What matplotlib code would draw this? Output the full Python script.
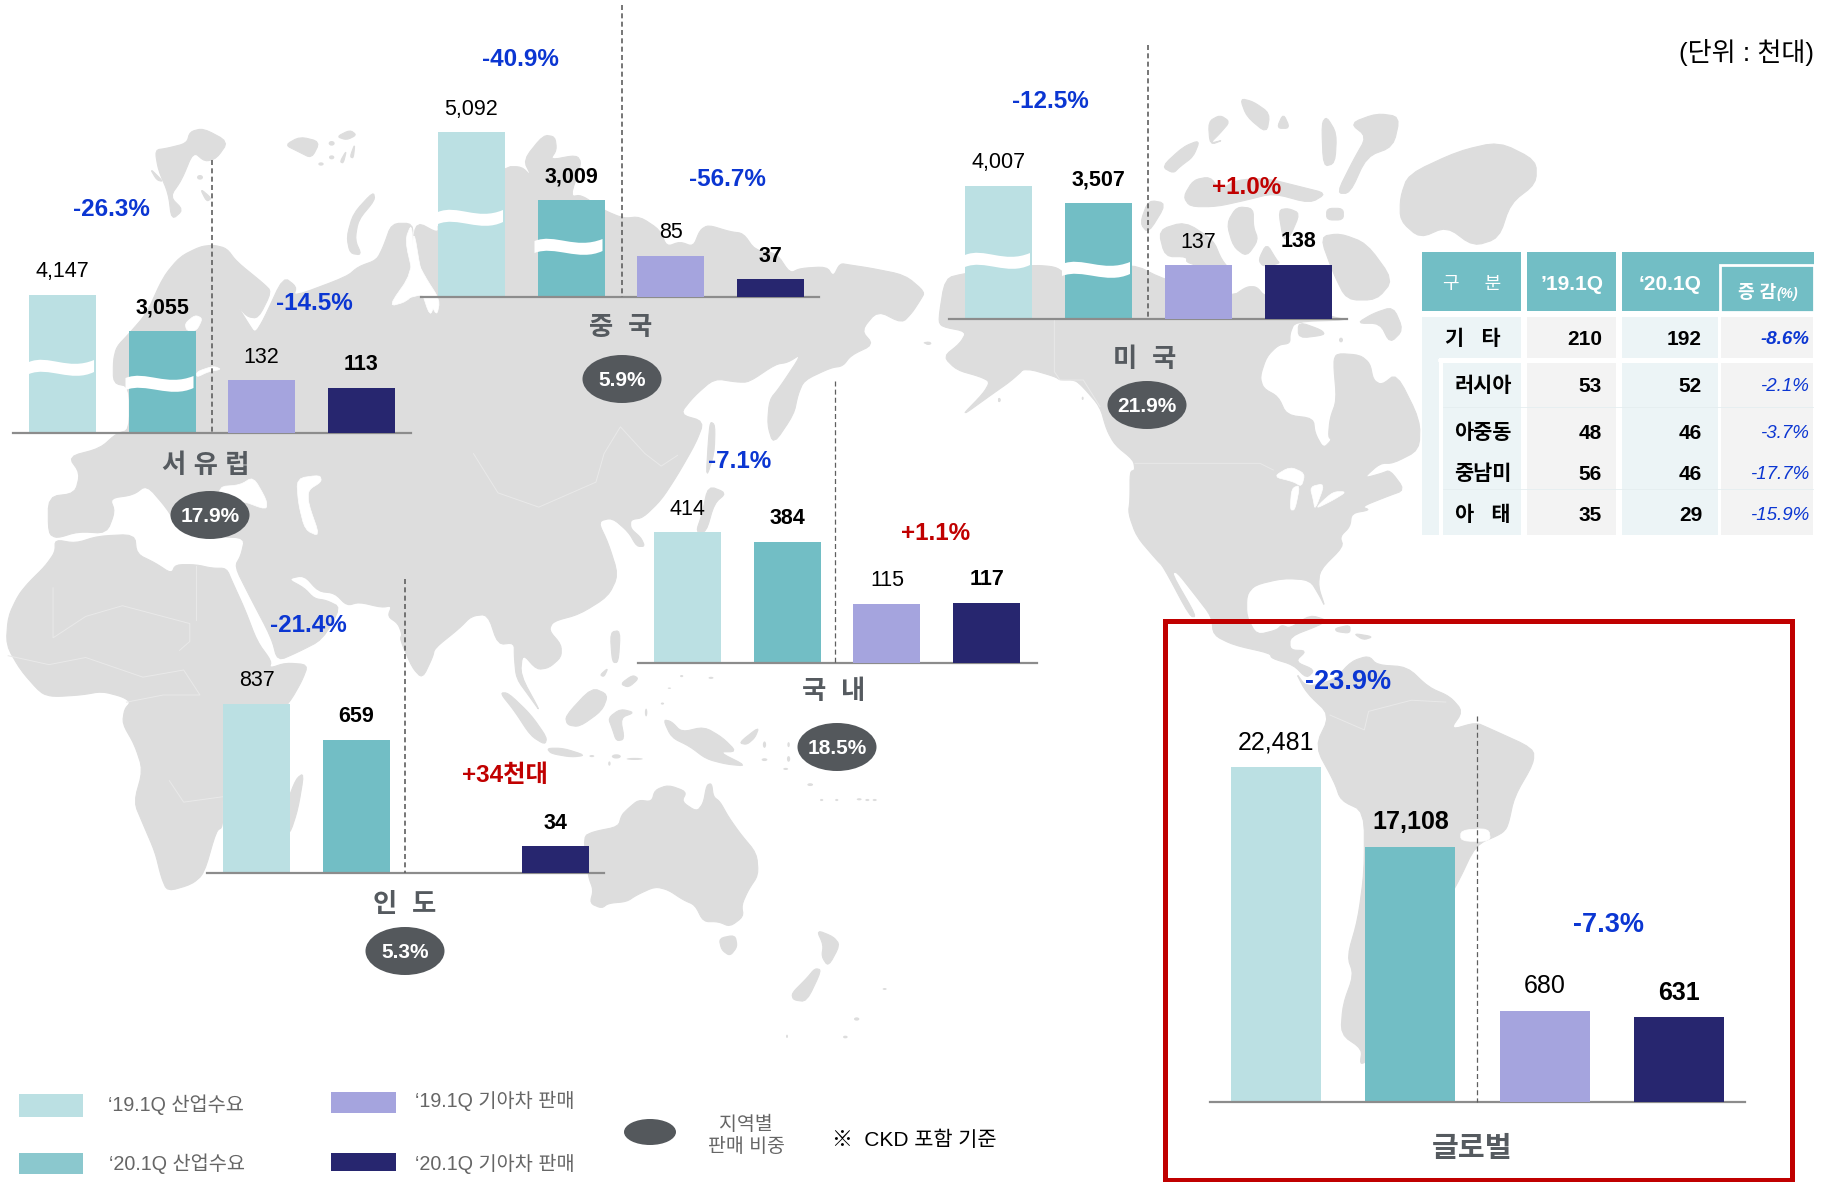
import matplotlib
matplotlib.use("Agg")
import matplotlib.pyplot as plt
from matplotlib.patches import Ellipse, PathPatch, Polygon, Rectangle
from matplotlib.path import Path

plt.rcParams['font.family'] = ['Liberation Sans', 'Noto Sans CJK KR']

W, H = 1822, 1182

# values
regions = ['서 유 럽', '중  국', '미  국', '국  내', '인  도', '글로벌']
demand_19 = [4147, 5092, 4007, 414, 837, 22481]
demand_20 = [3055, 3009, 3507, 384, 659, 17108]
sales_19 = [132, 85, 137, 115, None, 680]
sales_20 = [113, 37, 138, 117, 34, 631]
demand_chg = ['-26.3%', '-40.9%', '-12.5%', '-7.1%', '-21.4%', '-23.9%']
sales_chg = ['-14.5%', '-56.7%', '+1.0%', '+1.1%', '+34천대', '-7.3%']
shares = ['17.9%', '5.9%', '21.9%', '18.5%', '5.3%', None]

table_labels = ['기   타', '러시아', '아중동', '중남미', '아   태']
table_19 = [210, 53, 48, 56, 35]
table_20 = [192, 52, 46, 46, 29]
table_chg = ['-8.6%', '-2.1%', '-3.7%', '-17.7%', '-15.9%']

legend_labels = ['‘19.1Q 산업수요', '‘20.1Q 산업수요', '‘19.1Q 기아차 판매', '‘20.1Q 기아차 판매']

LIGHT, TEAL, LAV, NAVY = '#BBE0E3', '#72BEC5', '#A5A4DE', '#27266F'
BLUE, RED, GREY, LAND = '#0B36D2', '#C00000', '#54585C', '#DDDDDD'

# layout: axis x0, x1, baseline, first bar centre, bar pitch, bar width, px per unit left/right
# label positions: name, share ellipse, left pct, right pct, dashed x, dashed top, wave centres
layout = [
    dict(x0=13, x1=411, base=433, c0=62.5, pitch=99.5, w=67, kl=.0333, kr=.4015, name=(206, 466), oval=(210, 515),
         pl=(111, 209), pr=(314, 304), dash=(212, 160), waves=(368, 384), fs=15.5, pfs=17.5),
    dict(x0=421, x1=819, base=297, c0=471.5, pitch=99.5, w=67, kl=.0324, kr=.483, name=(621, 328), oval=(622, 379),
         pl=(520, 59), pr=(727, 179), dash=(622, 5), waves=(218, 247), fs=15.5, pfs=17.5),
    dict(x0=949, x1=1347, base=319, c0=998.5, pitch=100, w=67, kl=.0332, kr=.394, name=(1145, 360), oval=(1147, 405),
         pl=(1050, 102), pr=(1247, 187), dash=(1148, 45), waves=(261, 270), fs=15.5, pfs=17.5),
    dict(x0=638, x1=1037, base=662.5, c0=687.5, pitch=99.7, w=67, kl=.3145, kr=.51, name=(834, 692), oval=(837, 747),
         pl=(740, 462), pr=(936, 534), dash=(835, 381), waves=None, fs=15.5, pfs=17.5),
    dict(x0=207, x1=604, base=873, c0=256.5, pitch=99.7, w=67, kl=.202, kr=.79, name=(405, 905), oval=(405, 951),
         pl=(308, 625), pr=(505, 775), dash=(405, 579), waves=None, fs=15.5, pfs=17.5),
    dict(x0=1210, x1=1745, base=1101.5, c0=1276, pitch=134.3, w=90, kl=.0149, kr=.1337, name=(1472, 1149), oval=None,
         pl=(1348, 682), pr=(1609, 925), dash=(1477, 716), waves=None, fs=18, pfs=19.5),
]


def px(frame, pts):
    ox, oy, sx, sy = frame
    return [(ox + x / sx, oy + y / sy) for x, y in pts]


def soften(pts, rounds=2):
    """Corner cutting, so the traced coasts don't look like they were cut with scissors"""
    for _ in range(rounds):
        out = []
        for i, (x0, y0) in enumerate(pts):
            x1, y1 = pts[(i + 1) % len(pts)]
            out.append((.8 * x0 + .2 * x1, .8 * y0 + .2 * y1))
            out.append((.2 * x0 + .8 * x1, .2 * y0 + .8 * y1))
        pts = out
    return pts


Z3 = (0, 120, 3, 3)
Z4 = (400, 0, 3, 3)
Z5 = (900, 60, 3, 3)
Z6 = (1150, 600, 2.333, 2.694)
Z7 = (0, 520, 2.45, 2.8)
Z8 = (400, 300, 2.45, 2.8)
Z9 = (540, 720, 3, 3)
Z10 = (1000, 300, 3, 3)
S = (0, 0, 1 / 1.162, 1 / 1.162)

eurasia = (
    px(Z3, [(145, 1240), (145, 1130), (225, 1120), (240, 1060), (205, 1010), (300, 985), (350, 940), (388, 930),
            (388, 800), (340, 790), (340, 720), (350, 680), (388, 640), (440, 580), (490, 470), (540, 410), (600, 380),
            (640, 375), (680, 385), (710, 425), (790, 490), (815, 515), (775, 595), (740, 590), (705, 545), (745, 610),
            (765, 640), (790, 600), (850, 470), (890, 500), (880, 530), (1040, 470), (1075, 440), (1130, 420),
            (1150, 380), (1175, 310), (1240, 310), (1235, 380), (1250, 305), (1315, 340)])
    + px(Z4, [(114, 670), (315, 500), (365, 500), (395, 530), (370, 480), (430, 405), (465, 410), (470, 450), (450, 480),
              (530, 465), (545, 490), (510, 590), (545, 585), (610, 630), (670, 655), (720, 650), (780, 690), (800, 740),
              (840, 725), (880, 740), (900, 690), (925, 675), (990, 695), (1030, 700), (1065, 750), (1130, 760),
              (1170, 820), (1200, 805), (1280, 800), (1300, 830), (1320, 790), (1350, 795)])
    + [(870, 268), (905, 275), (925, 292)]
    + px(Z8, [(1275, 0), (1255, 35), (1230, 65), (1170, 30), (1130, 85), (1160, 125), (1105, 155), (1085, 185), (1055, 190),
              (990, 225), (975, 265), (965, 320), (915, 405), (900, 350), (905, 280), (930, 245), (985, 150), (950, 175),
              (920, 180), (855, 230), (825, 230), (770, 220), (720, 270), (685, 320), (745, 340), (725, 400), (680, 490),
              (640, 560), (595, 610), (565, 615), (565, 640), (590, 665), (600, 690), (580, 690), (560, 650), (520, 610),
              (485, 620), (510, 680), (535, 770), (510, 830), (440, 880), (375, 900), (365, 925), (395, 965), (395, 1000),
              (365, 1030), (335, 1035), (300, 990), (295, 1050), (345, 1155), (320, 1115), (285, 1060), (280, 1000),
              (280, 960), (240, 965), (215, 880), (175, 885), (145, 920), (85, 975), (80, 1000), (55, 1060), (30, 1030),
              (0, 950)])
    + px(Z7, [(985, 320), (975, 290), (950, 270), (960, 240), (935, 245), (880, 230), (850, 240), (820, 205), (780, 200),
              (745, 155), (705, 165), (745, 190), (770, 220), (800, 225), (835, 245), (790, 335), (730, 370), (680, 395),
              (665, 330), (610, 210), (575, 130), (590, 100), (600, 50)])
    + px(Z3, [(650, 1250), (600, 1230), (560, 1170), (530, 1215), (500, 1165), (440, 1095), (400, 1125), (330, 1135),
              (345, 1175), (320, 1240), (235, 1235), (170, 1255)])
)
africa = px(Z7, [(135, 55), (185, 65), (240, 45), (330, 40), (335, 95), (380, 120), (420, 150), (430, 125), (480, 125),
                 (520, 135), (555, 135), (570, 175), (600, 250), (630, 340), (665, 395), (660, 415), (700, 400), (755, 405),
                 (740, 450), (710, 510), (640, 600), (600, 650), (560, 700), (546, 760), (546, 860), (530, 870), (500, 990),
                 (470, 1020), (410, 1040), (395, 1000), (380, 930), (350, 850), (328, 790), (350, 700), (330, 630),
                 (300, 570), (305, 530), (320, 510), (300, 495), (250, 480), (200, 490), (130, 495), (100, 485), (50, 420),
                 (15, 350), (20, 270), (45, 210), (70, 175), (110, 130), (135, 90)])
n_america = (
    px(Z5, [(115, 780), (135, 655), (195, 640), (396, 615), (465, 620), (495, 640), (696, 610), (795, 660), (996, 710),
            (1040, 680), (1070, 680), (1095, 710), (1295, 770), (1345, 780)])
    + px(Z10, [(885, 65), (870, 100), (870, 130), (835, 135), (800, 170), (780, 230), (790, 265), (835, 290), (860, 345),
               (940, 355), (945, 400), (970, 445), (995, 420), (985, 410), (990, 355), (1010, 300), (1000, 185), (1010, 160),
               (1080, 165), (1110, 190), (1120, 240), (1145, 255), (1190, 220), (1260, 360), (1258, 450), (1180, 490),
               (1140, 490), (1090, 535), (1145, 520), (1170, 510), (1215, 570), (1160, 590), (1085, 620), (1110, 630),
               (1055, 640), (1050, 680), (1020, 710), (1030, 740), (960, 810), (955, 860), (975, 920), (960, 890), (930, 840),
               (850, 835), (765, 855), (740, 885), (740, 950), (770, 1005), (830, 990), (845, 975), (870, 985), (930, 945),
               (980, 960), (960, 975), (870, 1010), (870, 1050), (920, 1052), (885, 1085), (945, 1110), (920, 1135),
               (880, 1095), (815, 1075), (810, 1060), (700, 1035), (640, 1005), (635, 950), (585, 885), (530, 815), (515, 820),
               (590, 950), (570, 950), (490, 800), (470, 780), (410, 710), (385, 640), (390, 600), (390, 515), (405, 510),
               (400, 480), (345, 435), (320, 390), (300, 320), (250, 262), (225, 240), (180, 240), (165, 230), (80, 205)])
    + px(Z5, [(325, 945), (345, 915), (375, 925), (330, 965), (280, 1000), (180, 1072), (250, 1000), (270, 965), (240, 950),
              (170, 930), (130, 890), (180, 850), (200, 815), (125, 800)])
)
s_america = px(Z6, [(340, 195), (365, 235), (430, 215), (470, 165), (510, 150), (530, 175), (600, 180), (650, 235), (700, 260),
                    (730, 300), (700, 350), (760, 330), (790, 345), (895, 400), (895, 440), (850, 530), (835, 610), (820, 630),
                    (760, 660), (715, 770), (600, 1000), (504, 1245), (490, 1250), (495, 1210), (445, 1170), (450, 1090),
                    (475, 1010), (460, 960), (485, 860), (500, 730), (500, 570), (445, 540), (430, 490), (385, 395), (420, 310),
                    (365, 250)])
australia = px(Z9, [(130, 350), (160, 335), (235, 320), (245, 285), (265, 265), (295, 240), (335, 245), (345, 210), (385, 195),
                    (440, 215), (425, 245), (470, 275), (490, 250), (500, 195), (515, 190), (520, 230), (540, 245), (565, 290),
                    (600, 340), (650, 400), (655, 465), (625, 510), (605, 555), (610, 590), (570, 620), (535, 605), (490, 605),
                    (465, 555), (430, 540), (385, 510), (345, 500), (290, 525), (260, 545), (205, 550), (185, 565), (150, 550),
                    (160, 510), (145, 470)])

islands = [
    px(Z7, [(745, 708), (725, 725), (700, 800), (680, 890), (710, 880), (730, 810)]),
    px(Z8, [(245, 1100), (265, 1100), (320, 1160), (360, 1225), (355, 1245), (320, 1220), (280, 1150)]),
    px(Z8, [(360, 1255), (400, 1255), (455, 1275), (420, 1280), (370, 1270)]),
    px(Z8, [(405, 1165), (470, 1085), (510, 1105), (495, 1150), (440, 1195), (410, 1190)]),
    px(Z8, [(510, 1170), (540, 1145), (575, 1155), (540, 1170), (550, 1230), (530, 1235), (520, 1200)]),
    px(Z8, [(515, 930), (540, 925), (535, 1015), (520, 1015)]),
    px(Z8, [(490, 1050), (510, 1030), (500, 1055)]),
    px(Z8, [(540, 1075), (570, 1050), (585, 1060), (560, 1085)]),
    px(Z8, [(645, 1175), (665, 1180), (690, 1210), (745, 1195), (790, 1225), (825, 1265), (780, 1265), (850, 1305), (800, 1300),
            (750, 1285), (710, 1250), (665, 1225)]),
    px(Z8, [(830, 1240), (880, 1195), (870, 1225), (850, 1245)]),
    px(Z8, [(755, 400), (760, 340), (772, 350), (770, 430), (750, 500)]),
    px(Z8, [(755, 520), (800, 540), (770, 570), (750, 650), (725, 650), (740, 600)]),
    px(Z9, [(537, 655), (585, 645), (592, 680), (570, 708), (545, 690)]),
    px(Z9, [(830, 630), (880, 650), (900, 675), (865, 740), (845, 710), (850, 675)]),
    px(Z9, [(825, 745), (845, 750), (800, 845), (760, 840), (755, 820), (800, 775)]),
    # arctic, left
    px(Z3, [(465, 90), (500, 85), (560, 70), (570, 35), (610, 25), (685, 65), (650, 115), (615, 125), (580, 95), (545, 180),
            (510, 230), (550, 270), (515, 300), (505, 220), (475, 150)]),
    px(Z3, [(450, 145), (490, 185), (470, 180)]),
    px(Z3, [(600, 205), (635, 235), (620, 245)]),
    px(Z3, [(855, 75), (900, 50), (960, 65), (935, 115), (895, 95)]),
    px(Z3, [(1040, 350), (1060, 280), (1120, 215), (1125, 240), (1075, 300), (1065, 360), (1085, 405), (1050, 400)]),
    px(Z3, [(1020, 125), (1040, 90), (1030, 130)]),
    px(Z3, [(1050, 110), (1065, 70), (1060, 115)]),
    px(Z3, [(1010, 50), (1050, 30), (1070, 45), (1040, 60)]),
    # arctic, canada
    px(Z5, [(745, 420), (800, 430), (745, 520), (720, 490)]),
    px(Z5, [(775, 510), (855, 485), (940, 540), (965, 600), (1000, 640), (860, 610), (860, 590), (795, 590)]),
    px(Z5, [(850, 410), (880, 360), (930, 350), (960, 390), (1010, 360), (1100, 355), (1200, 380), (1280, 400), (1230, 430),
            (1120, 400), (1040, 420), (950, 440), (870, 440)]),
    px(Z5, [(785, 320), (850, 260), (900, 240), (880, 290), (840, 320), (820, 340)]),
    px(Z5, [(980, 490), (1010, 440), (1060, 445), (1060, 500), (1075, 540), (1040, 590), (1000, 560)]),
    px(Z5, [(1135, 450), (1165, 445), (1200, 460), (1170, 530), (1150, 540)]),
    px(Z5, [(1075, 600), (1100, 550), (1130, 600), (1140, 610), (1090, 620)]),
    px(Z5, [(1260, 530), (1320, 520), (1400, 550), (1480, 660), (1430, 720), (1340, 720), (1300, 640)]),
    px(Z5, [(1280, 445), (1330, 445), (1330, 480), (1280, 480)]),
    px(Z5, [(1020, 115), (1060, 125), (1110, 160), (1100, 220), (1040, 170)]),
    px(Z5, [(925, 185), (960, 165), (990, 185), (960, 220), (930, 250), (970, 240), (930, 255)]),
    px(Z5, [(1130, 205), (1150, 160), (1170, 205)]),
    px(Z5, [(1265, 190), (1280, 170), (1310, 220), (1305, 310), (1270, 320)]),
    px(Z5, [(1350, 190), (1430, 160), (1500, 170), (1480, 260), (1400, 290), (1350, 400), (1310, 400), (1360, 300), (1400, 230)]),
    px(Z10, [(895, 65), (965, 90), (975, 105), (895, 115)]),
    px(Z10, [(1070, 70), (1120, 40), (1180, 20), (1210, 90), (1170, 130), (1140, 70)]),
    px(S, [(1205, 170), (1212, 150), (1255, 130), (1290, 122), (1322, 138), (1322, 158), (1300, 175), (1290, 205), (1268, 212),
           (1245, 195), (1222, 205), (1205, 190)]),
    # caribbean
    px(Z10, [(1005, 985), (1050, 975), (1050, 1000), (1010, 995)]),
    px(Z10, [(1060, 1000), (1120, 1010), (1090, 1020)]),
]

# seas and lakes cut out of the land
cutouts = [
    px(Z3, [(890, 1075), (960, 1065), (965, 1085), (925, 1110), (925, 1150), (960, 1250), (915, 1230), (895, 1150)]),
    px(Z3, [(655, 1100), (720, 1095), (760, 1070), (800, 1140), (800, 1170), (720, 1140), (665, 1170)]),
    px(Z3, [(555, 610), (585, 585), (608, 595), (590, 632), (560, 632)]),
    px(Z3, [(590, 755), (640, 738), (665, 748), (625, 755), (590, 772)]),
    px(Z3, [(1240, 320), (1235, 460), (1165, 560), (1220, 545), (1260, 500), (1290, 590), (1305, 550), (1265, 470)]),
    px(Z4, [(35, 670), (15, 720), (40, 830), (0, 900), (80, 880), (110, 950), (120, 900), (75, 830), (40, 760)]),
    px(Z10, [(820, 530), (870, 500), (915, 520), (905, 560), (880, 545)]),
    px(Z10, [(875, 565), (900, 555), (885, 630), (870, 630)]),
    px(Z10, [(930, 560), (975, 550), (945, 630), (940, 600)]),
    px(Z10, [(950, 625), (1000, 600), (1040, 575), (1000, 575), (960, 610)]),
    px(Z6, [(725, 620), (790, 615), (795, 650), (725, 650)]),
]
borders = [
    px(Z10, [(405, 490), (780, 490), (820, 510)]),
    px(Z10, [(163, 60), (163, 215), (180, 240), (250, 240), (300, 320)]),
    px(Z8, [(180, 430), (240, 540), (340, 580), (480, 510), (500, 430), (540, 355), (600, 430), (640, 465), (680, 435)]),
    px(Z7, [(20, 380), (120, 405), (210, 385), (350, 440), (450, 420), (490, 490), (400, 490), (310, 510)]),
    px(Z7, [(130, 190), (130, 330), (210, 270), (300, 240), (465, 290), (465, 340), (440, 365)]),
    px(Z7, [(480, 130), (480, 280)]),
    px(Z7, [(415, 730), (450, 790), (545, 775)]),
    px(Z6, [(420, 310), (500, 350), (510, 300), (610, 270), (690, 275)]),
]
# small dots of land: centre and size
dots = [
    (Z8, 690, 1053, 4, 3), (Z8, 762, 1058, 6, 3), (Z8, 660, 1087, 4, 2), (Z8, 643, 1130, 4, 3), (Z8, 603, 1155, 3, 11),
    (Z8, 530, 1278, 11, 6), (Z8, 470, 1277, 6, 3), (Z8, 513, 1298, 3, 6), (Z8, 575, 1285, 20, 3), (Z8, 893, 1245, 4, 9),
    (Z8, 893, 1287, 7, 4), (Z8, 952, 1245, 3, 7), (Z8, 952, 1285, 4, 8), (Z8, 945, 1313, 6, 3), (Z8, 1005, 1357, 7, 4),
    (Z8, 1033, 1400, 4, 3), (Z8, 1070, 1400, 4, 3), (Z8, 1125, 1398, 6, 3), (Z8, 1145, 1400, 5, 3), (Z8, 1163, 1400, 5, 3),
    (Z8, 1290, 120, 7, 3), (Z8, 1468, 280, 3, 6), (Z3, 600, 172, 9, 7), (Z3, 995, 70, 9, 7), (Z3, 995, 112, 8, 6),
    (Z3, 963, 132, 8, 5), (Z9, 1034, 807, 6, 3), (Z9, 950, 897, 8, 5), (Z9, 916, 951, 7, 4), (Z9, 741, 949, 3, 5),
    (Z5, 1330, 675, 9, 11), (Z5, 85, 850, 9, 5), (Z5, 298, 1020, 4, 6), (Z10, 1023, 120, 6, 7), (Z10, 248, 295, 3, 5),
]

fig = plt.figure(figsize=(W / 100, H / 100), dpi=100, facecolor='white')


def full_axes(zorder):
    ax = fig.add_axes([0, 0, 1, 1], zorder=zorder)
    ax.set_xlim(0, W)
    ax.set_ylim(H, 0)
    ax.axis('off')
    ax.patch.set_alpha(0)
    return ax


# map goes behind everything
bg = full_axes(0)
for shape in [eurasia, africa, n_america, s_america, australia] + islands:
    bg.add_patch(Polygon(soften(shape), closed=True, fc=LAND, ec=LAND, lw=0.8, joinstyle='round'))
for shape in cutouts:
    bg.add_patch(Polygon(soften(shape), closed=True, fc='white', ec='white', lw=0.5, joinstyle='round'))
for line in borders:
    bg.plot(*zip(*line), color='#E9E9E9', lw=0.7)
for frame, x, y, rx, ry in dots:
    (cx, cy), = px(frame, [(x, y)])
    bg.add_patch(Ellipse((cx, cy), rx * 2 / frame[2], ry * 2 / frame[3], fc=LAND, ec='none'))

top = full_axes(3)


def wave(x0, x1, yc, thick=12):
    """White wavy band that marks a broken bar"""
    d = x1 - x0
    verts = [(x0, yc - thick / 2), (x0 + d * .3, yc - thick - 2), (x0 + d * .6, yc + 3), (x1, yc - thick / 2 - 2),
             (x1, yc + thick / 2 - 2), (x0 + d * .65, yc + thick + 3), (x0 + d * .3, yc - 2), (x0, yc + thick / 2),
             (x0, yc - thick / 2)]
    codes = [Path.MOVETO, Path.CURVE4, Path.CURVE4, Path.CURVE4, Path.LINETO, Path.CURVE4, Path.CURVE4, Path.CURVE4,
             Path.CLOSEPOLY]
    top.add_patch(PathPatch(Path(verts, codes), fc='white', ec='none'))


for i, g in enumerate(layout):
    panel_h = 400
    x_lo = (g['x0'] - g['c0']) / g['pitch']
    x_hi = (g['x1'] - g['c0']) / g['pitch']
    rect = [g['x0'] / W, 1 - g['base'] / H, (g['x1'] - g['x0']) / W, panel_h / H]
    ax = fig.add_axes(rect, zorder=1)
    ax.patch.set_alpha(0)
    ax.set_xlim(x_lo, x_hi)
    ax.set_ylim(0, panel_h / g['kl'])
    ax.set_xticks([])
    ax.set_yticks([])
    for pos in ('top', 'left', 'right'):
        ax.spines[pos].set_visible(False)
    ax.spines['bottom'].set_color('#8C8C8C')
    ax.spines['bottom'].set_linewidth(1.6)
    bw = g['w'] / g['pitch']

    bars = ax.bar([0, 1], [demand_19[i], demand_20[i]], width=bw, color=[LIGHT, TEAL])
    ax.bar_label(bars, labels=[f'{demand_19[i]:,}', f'{demand_20[i]:,}'], padding=9, fontsize=g['fs'], color='black')
    ax.texts[-1].set_fontweight('bold')

    # the sales bars have their own scale in the same panel
    ax2 = ax.twinx()
    ax2.patch.set_alpha(0)
    ax2.set_ylim(0, panel_h / g['kr'])
    ax2.set_yticks([])
    for pos in ('top', 'left', 'right', 'bottom'):
        ax2.spines[pos].set_visible(False)
    if sales_19[i] is not None:
        bars = ax2.bar([2], [sales_19[i]], width=bw, color=LAV)
        ax2.bar_label(bars, labels=[f'{sales_19[i]:,}'], padding=9, fontsize=g['fs'], color='black')
    bars = ax2.bar([3], [sales_20[i]], width=bw, color=NAVY)
    ax2.bar_label(bars, labels=[f'{sales_20[i]:,}'], padding=9, fontsize=g['fs'], color='black', fontweight='bold')

    # dashed divider
    dx, dy = g['dash']
    thin = i in (3, 5)
    top.plot([dx, dx], [dy, g['base']], color='#5F5F5F', lw=0.9 if thin else 1.2, dashes=(4, 2.5) if thin else (3, 2))

    if g['waves']:
        wave(g['c0'] - g['w'] / 2, g['c0'] + g['w'] / 2 - 2, g['waves'][0])
        wave(g['c0'] + g['pitch'] - g['w'] / 2 - 3, g['c0'] + g['pitch'] + g['w'] / 2 - 2, g['waves'][1])

    top.text(*g['name'], regions[i], ha='center', va='center', fontsize=21 if i == 5 else 19, fontweight='bold',
             color='#555A5F')
    if g['oval']:
        top.add_patch(Ellipse(g['oval'], 79, 48, fc=GREY, ec='none'))
        top.text(g['oval'][0], g['oval'][1] + 1, shares[i], ha='center', va='center', fontsize=15, fontweight='bold',
                 color='white')
    top.text(*g['pl'], demand_chg[i], ha='center', va='center', fontsize=g['pfs'], fontweight='bold', color=BLUE)
    top.text(*g['pr'], sales_chg[i], ha='center', va='center', fontsize=g['pfs'], fontweight='bold',
             color=RED if sales_chg[i].startswith('+') else BLUE)

top.add_patch(Rectangle((1165, 621), 627, 559, fill=False, ec=RED, lw=3.6, joinstyle='miter'))
top.text(1814, 52, '(단위 : 천대)', ha='right', va='center', fontsize=18.8, color='black')

# legend
legend_boxes = [(19, 1094, 64, 23, LIGHT), (19, 1153, 64, 21, '#8BC8CE'), (331, 1092, 65, 21, LAV), (331, 1153, 65, 18, NAVY)]
legend_text = [(108, 1105), (109, 1164), (415, 1101), (415, 1164)]
for (x, y, bw, bh, col), (tx, ty), lab in zip(legend_boxes, legend_text, legend_labels):
    top.add_patch(Rectangle((x, y), bw, bh, fc=col, ec='none'))
    top.text(tx, ty, lab, ha='left', va='center', fontsize=14.2, color='#666666')
top.add_patch(Ellipse((650, 1132), 52, 26, fc=GREY, ec='none'))
top.text(746, 1136, '지역별\n판매 비중', ha='center', va='center', fontsize=14, color='#666666', linespacing=1.25)
top.text(832, 1140, '※  CKD 포함 기준', ha='left', va='center', fontsize=15, color='black')

# table
col_x = [(1422, 1521), (1527, 1616), (1622, 1718), (1721, 1813)]
col_fill = ['#EBF4F6', '#F2F2F2', '#EBF4F6', '#F2F2F2']
hdr = '#72BEC5'
top.add_patch(Rectangle((1422, 252), 99, 59, fc=hdr, ec='none'))
top.add_patch(Rectangle((1527, 252), 89, 59, fc=hdr, ec='none'))
top.add_patch(Rectangle((1622, 252), 192, 59, fc=hdr, ec='none'))
top.add_patch(Rectangle((1720, 265), 94, 47, fc=hdr, ec='white', lw=2))
top.text(1472, 285, '구     분', ha='center', va='center', fontsize=13, color='white')
top.text(1572, 285, '’19.1Q', ha='center', va='center', fontsize=15, fontweight='bold', color='white')
top.text(1670, 285, '‘20.1Q', ha='center', va='center', fontsize=15, fontweight='bold', color='white')
top.text(1757, 294, '증 감', ha='center', va='center', fontsize=13, fontweight='bold', color='white')
top.text(1787, 294, '(%)', ha='center', va='center', fontsize=10, style='italic', fontweight='bold', color='white')
for (x0, x1), fill in zip(col_x, col_fill):
    top.add_patch(Rectangle((x0, 317), x1 - x0, 41, fc=fill, ec='none', alpha=.92))
    top.add_patch(Rectangle((x0, 363), x1 - x0, 172, fc=fill, ec='none', alpha=.92))
top.add_patch(Rectangle((1422, 358), 17, 5, fc='#EBF4F6', ec='none', alpha=.92))
top.add_patch(Rectangle((1439, 360), 4, 176, fc='white', ec='none'))
top.plot([1439, 1521], [360, 360], color='white', lw=2)
for yy in (407, 489):
    top.plot([1443, 1813], [yy, yy], color='#E4EEF0', lw=0.6)

row_y = [339.5, 386.5, 433.5, 474.5, 515.5]
for i, y in enumerate(row_y):
    top.text(1473 if i == 0 else 1483, y, table_labels[i], ha='center', va='center', fontsize=15, fontweight='bold',
             color='black')
    top.text(1602, y, f'{table_19[i]}', ha='right', va='center', fontsize=15, fontweight='bold', color='black')
    top.text(1702, y, f'{table_20[i]}', ha='right', va='center', fontsize=15, fontweight='bold', color='black')
    top.text(1809, y, table_chg[i], ha='right', va='center', fontsize=13.5, style='italic', color=BLUE,
             fontweight='bold' if i == 0 else 'normal')

fig.savefig('out.png', dpi=100, facecolor='white')
